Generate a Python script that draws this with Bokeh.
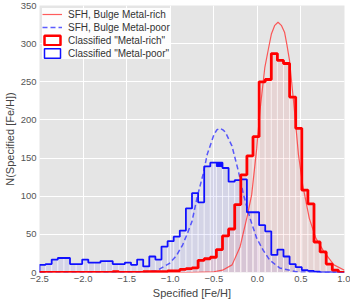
import numpy as np
from bokeh.plotting import figure
from bokeh.models import Legend, LegendItem, FixedTicker, Range1d
from bokeh.embed import file_html
from bokeh.resources import INLINE

# ---------------- data ----------------
bin_edges = np.round(np.linspace(-2.5, 1.0, 51), 3)

red_counts = [0, 0, 0, 0, 0, 0, 0, 0, 0, 0,
              0, 0, 1, 0, 0, 0, 0, 1, 1, 1,
              1, 2, 2, 4, 5, 6, 16, 18, 20, 30,
              48, 57, 89, 128, 153, 178, 250, 253, 287, 278,
              274, 230, 189, 108, 90, 40, 27, 11, 3, 0]

blue_counts = [10, 11, 17, 19, 19, 11, 11, 17, 13, 13,
               15, 15, 11, 11, 13, 10, 17, 8, 21, 17,
               34, 41, 47, 55, 84, 104, 92, 139, 144, 144,
               137, 119, 121, 122, 79, 79, 62, 54, 23, 30,
               21, 11, 7, 3, 2, 1, 0, 0, 0, 0]

# small filled blue block seen on top of one metal-poor bin
blue_block_bin = [29]
blue_block_low = [139]

sfh_rich_x = [-2.5, -0.8, -0.5, -0.4, -0.29, -0.2, -0.12, -0.065, -0.008, 0.03,
              0.086, 0.125, 0.162, 0.2, 0.237, 0.275, 0.312, 0.34, 0.369, 0.426,
              0.471, 0.52, 0.596, 0.671, 0.765, 0.879, 1.0]
sfh_rich_y = [0, 0, 1, 3, 10, 33, 72, 102, 162, 212,
              269, 292, 313, 324, 328, 324, 315, 298, 278, 212,
              155, 115, 71, 45, 27, 10, 3]

sfh_poor_x = [-2.5, -1.4, -1.16, -1.008, -0.93, -0.858, -0.8, -0.75, -0.688, -0.62,
              -0.575, -0.5, -0.465, -0.43, -0.395, -0.367, -0.292, -0.216, -0.159, -0.084,
              -0.008, 0.068, 0.143, 0.256, 0.445, 0.7, 0.9]
sfh_poor_y = [0, 0, 2, 12, 22, 36, 52, 67, 100, 130,
              155, 180, 187, 189, 187, 184, 166, 132, 102, 71,
              45, 29, 16, 6, 1, 0, 0]

x_ticks = [-2.5, -2.0, -1.5, -1.0, -0.5, 0.0, 0.5, 1.0]
x_tick_labels = ["\u22122.5", "\u22122.0", "\u22121.5", "\u22121.0", "\u22120.5", "0.0", "0.5", "1.0"]
y_ticks = [0, 50, 100, 150, 200, 250, 300, 350]

# ---------------- figure ----------------
FONT = "Liberation Sans"
p = figure(width=350, height=301, x_range=Range1d(-2.5, 1.0), y_range=Range1d(0, 350),
           output_backend="svg", toolbar_location=None,
           min_border_left=33, min_border_right=6, min_border_top=5, min_border_bottom=22)
p.background_fill_color = "#e5e5e5"
p.border_fill_color = "white"
p.outline_line_color = None

p.grid.grid_line_color = "white"
p.grid.grid_line_width = 1
p.xaxis.ticker = FixedTicker(ticks=x_ticks)
p.yaxis.ticker = FixedTicker(ticks=y_ticks)
p.xaxis.major_label_overrides = {t: l for t, l in zip(x_ticks, x_tick_labels)}

for ax in (p.xaxis, p.yaxis):
    ax.axis_line_color = None
    ax.major_tick_line_color = None
    ax.minor_tick_line_color = None
    ax.major_tick_out = 0
    ax.major_tick_in = 0
    ax.major_label_text_font = FONT
    ax.major_label_text_font_size = "9.5px"
    ax.major_label_text_color = "#555555"
    ax.axis_label_text_font = FONT
    ax.axis_label_text_font_size = "11px"
    ax.axis_label_text_font_style = "normal"
    ax.axis_label_text_color = "#444444"
    ax.major_label_standoff = 3
    ax.axis_label_standoff = 2
p.xaxis.axis_label = "Specified [Fe/H]"
p.yaxis.axis_label = "N(Specified [Fe/H])"

lefts = bin_edges[:-1]
rights = bin_edges[1:]

# light filled bars
p.quad(left=lefts, right=rights, bottom=0, top=blue_counts,
       fill_color="blue", fill_alpha=0.07, line_color="white", line_alpha=0.45, line_width=1)
p.quad(left=lefts, right=rights, bottom=0, top=red_counts,
       fill_color="red", fill_alpha=0.07, line_color="white", line_alpha=0.45, line_width=1)

# legend proxies: zero-height quads on empty (count 0) bins, hidden under the baseline
zero_red = [i for i, v in enumerate(red_counts) if v == 0][:1]
zero_blue = [i for i, v in enumerate(blue_counts) if v == 0][-1:]
r_cls_rich = p.quad(left=[lefts[i] for i in zero_red], right=[rights[i] for i in zero_red],
                    top=[red_counts[i] for i in zero_red], bottom=[red_counts[i] for i in zero_red],
                    fill_color="white", line_color="#ff0000", line_width=2.5)
r_cls_poor = p.quad(left=[lefts[i] for i in zero_blue], right=[rights[i] for i in zero_blue],
                    top=[blue_counts[i] for i in zero_blue], bottom=[blue_counts[i] for i in zero_blue],
                    fill_color="white", line_color="#1010ff", line_width=1.5)

# SFH curves
r_sfh_rich = p.line(sfh_rich_x, sfh_rich_y, line_color="#ff3333", line_alpha=0.8, line_width=1.2)
r_sfh_poor = p.line(sfh_poor_x, sfh_poor_y, line_color="#3333ff", line_alpha=0.8, line_width=1.5,
                    line_dash="5 3")

# step outlines
def step_xy(edges, vals):
    xs = np.repeat(edges, 2)
    ys = np.concatenate([[0], np.repeat(vals, 2), [0]])
    return xs, ys

bx, by = step_xy(bin_edges, blue_counts)
p.line(bx, by, line_color="#1010ff", line_width=1.8)
blk_left = [bin_edges[i] for i in blue_block_bin]
blk_right = [bin_edges[i + 1] for i in blue_block_bin]
blk_top = [blue_counts[i] for i in blue_block_bin]
p.quad(left=blk_left, right=blk_right, bottom=blue_block_low, top=blk_top,
       fill_color="#1010ff", line_color="#1010ff", line_width=1)
rx, ry = step_xy(bin_edges, red_counts)
p.line(rx, ry, line_color="#ff0000", line_width=2.8)

legend = Legend(items=[
    LegendItem(label="SFH, Bulge Metal-rich", renderers=[r_sfh_rich]),
    LegendItem(label="SFH, Bulge Metal-poor", renderers=[r_sfh_poor]),
    LegendItem(label='Classified "Metal-rich"', renderers=[r_cls_rich]),
    LegendItem(label='Classified "Metal-poor"', renderers=[r_cls_poor]),
], location="top_left")
legend.margin = 3
legend.padding = 3
legend.spacing = 1
legend.glyph_width = 20
legend.glyph_height = 12
legend.label_height = 12
legend.label_standoff = 6
legend.label_text_font = FONT
legend.label_text_font_size = "10px"
legend.label_text_color = "#333333"
legend.background_fill_color = "white"
legend.background_fill_alpha = 0.9
legend.border_line_color = None
p.add_layout(legend)

open("out.html", "w").write(file_html(p, INLINE))
